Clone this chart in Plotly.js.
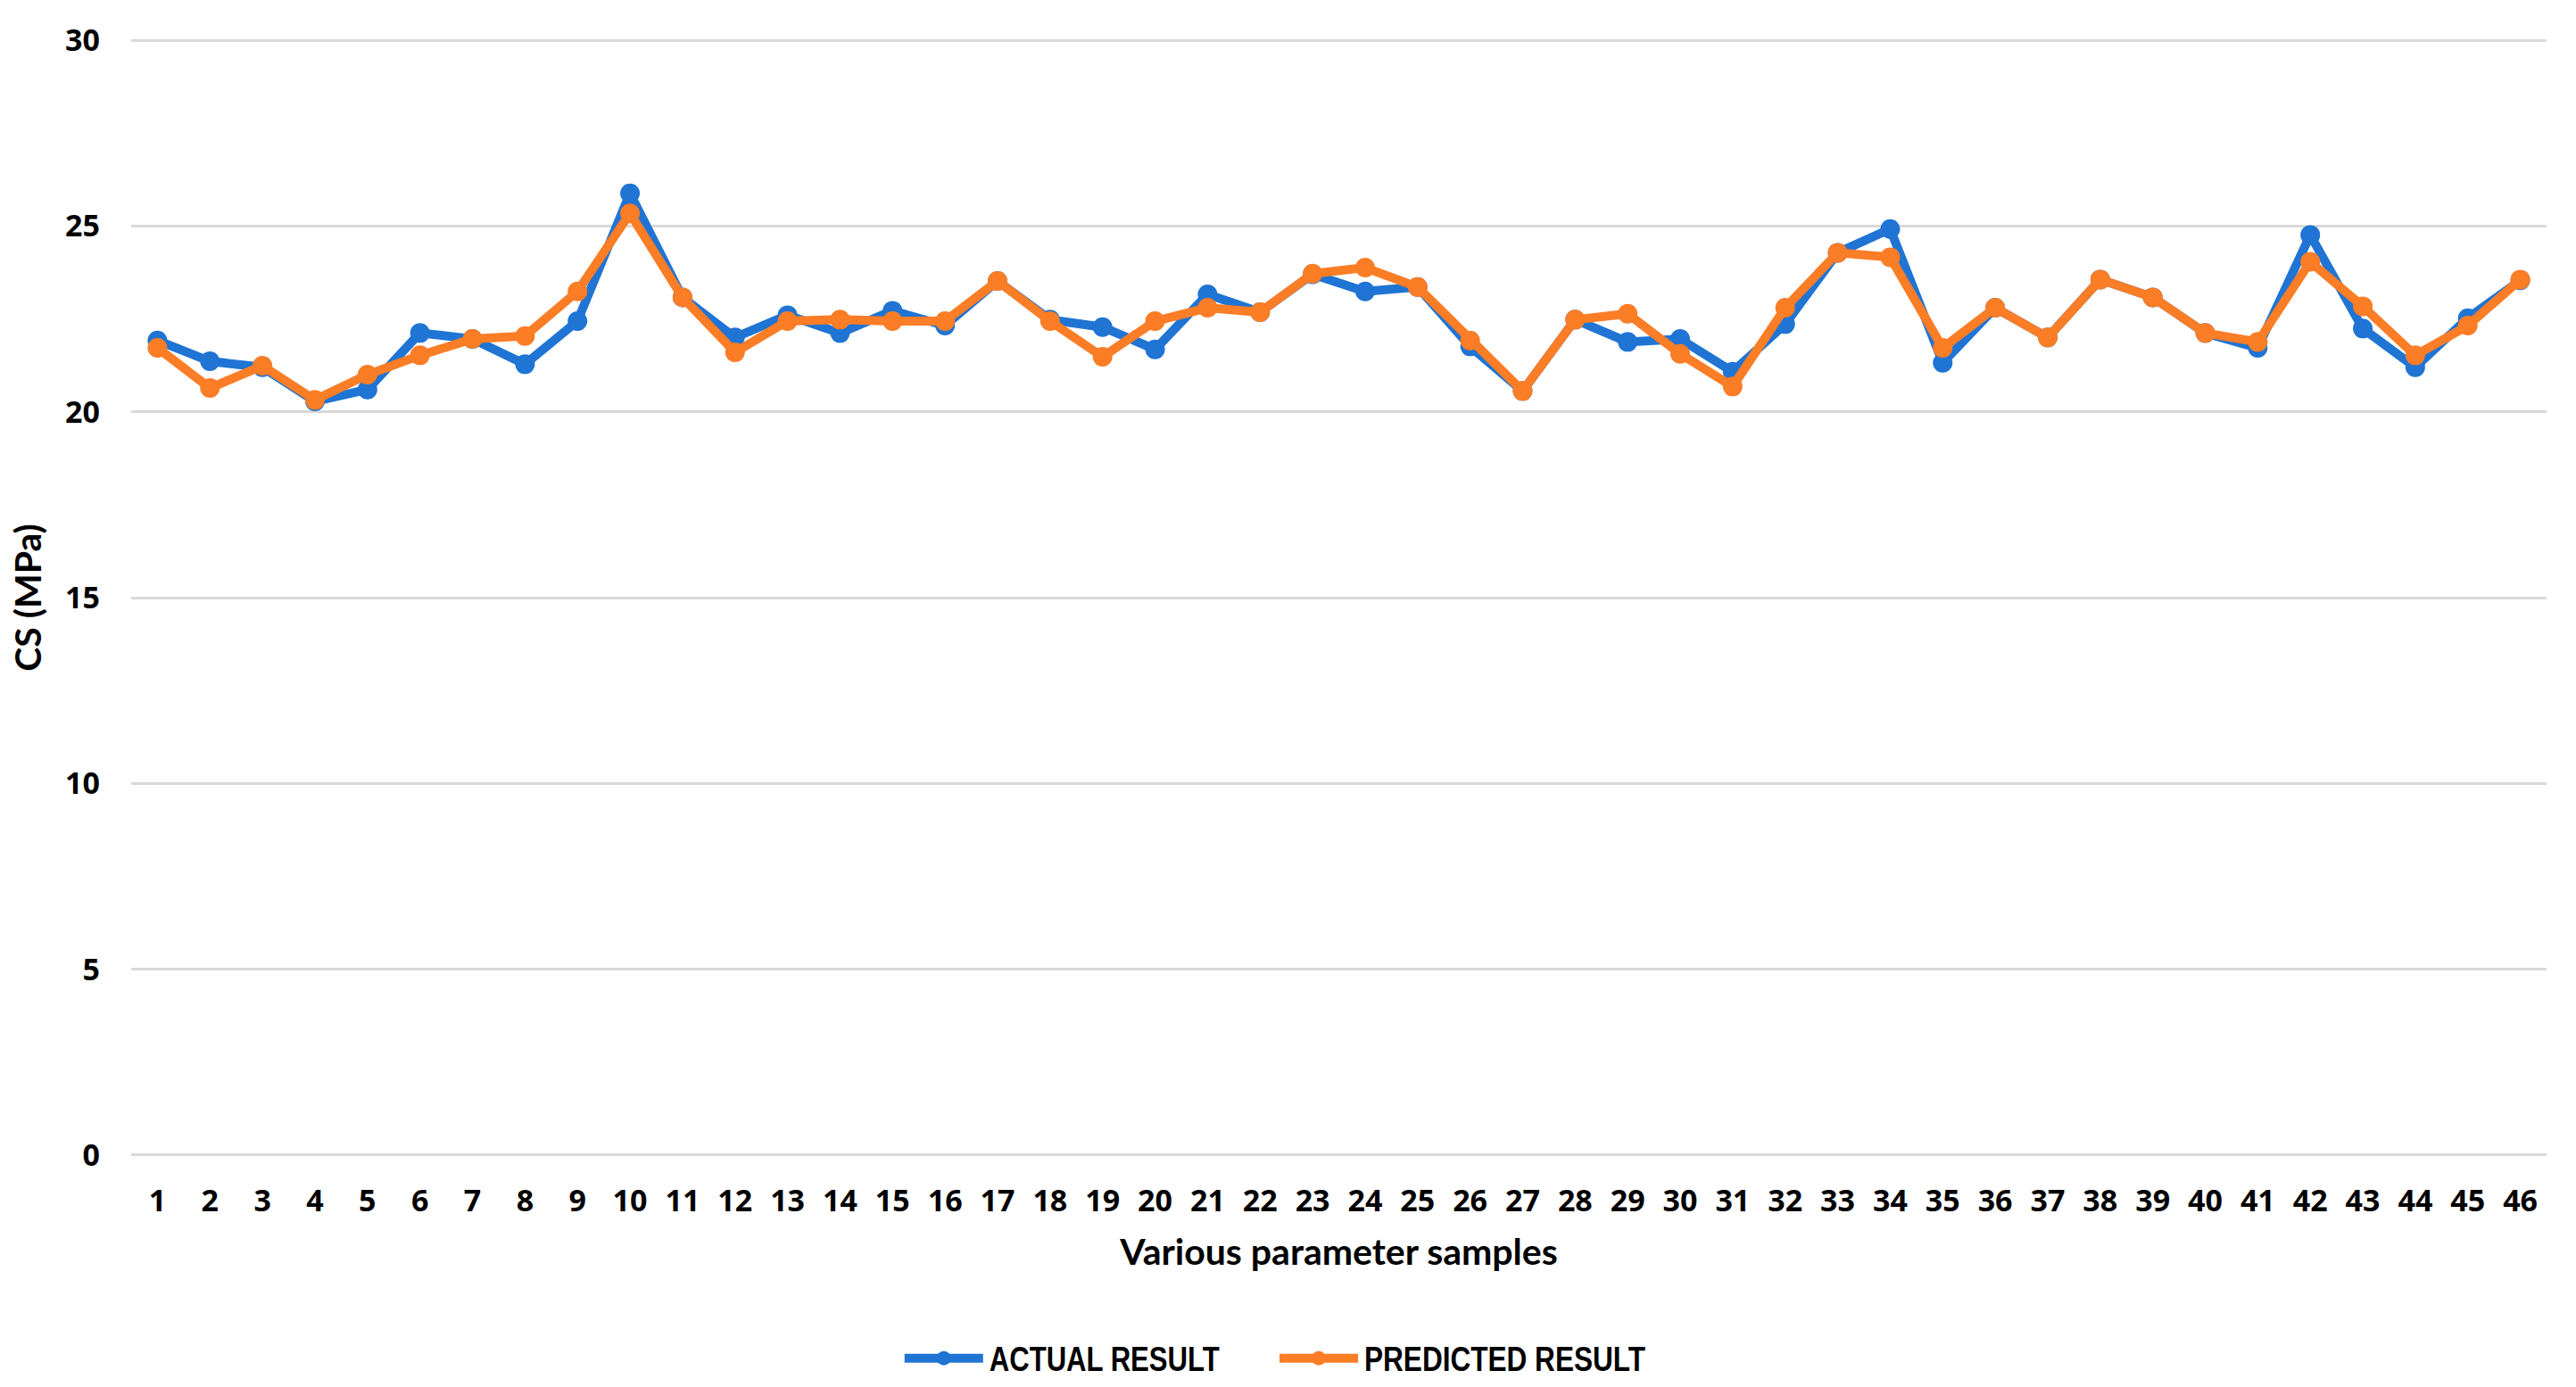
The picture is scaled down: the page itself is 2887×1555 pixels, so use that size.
<!DOCTYPE html>
<html>
<head>
<meta charset="utf-8">
<script src="https://cdn.plot.ly/plotly-3.0.1.min.js"></script>
<style>
html,body{margin:0;padding:0;background:#fff;}
#chart{width:2887px;height:1555px;}
</style>
</head>
<body>
<div id="chart"></div>
<script>
const samples = ['1','2','3','4','5','6','7','8','9','10','11','12','13','14','15','16','17','18','19','20','21','22','23','24','25','26','27','28','29','30','31','32','33','34','35','36','37','38','39','40','41','42','43','44','45','46'];
const actualResult = [21.92, 21.36, 21.20, 20.28, 20.60, 22.12, 21.96, 21.28, 22.44, 25.88, 23.08, 22.00, 22.60, 22.12, 22.72, 22.32, 23.52, 22.48, 22.28, 21.68, 23.16, 22.68, 23.70, 23.24, 23.36, 21.76, 20.56, 22.48, 21.88, 21.96, 21.08, 22.36, 24.28, 24.92, 21.32, 22.80, 22.00, 23.56, 23.08, 22.12, 21.72, 24.76, 22.24, 21.20, 22.52, 23.54];
const predictedResult = [21.72, 20.64, 21.24, 20.32, 21.00, 21.52, 21.96, 22.04, 23.24, 25.34, 23.08, 21.60, 22.44, 22.48, 22.44, 22.44, 23.52, 22.44, 21.48, 22.44, 22.80, 22.68, 23.72, 23.88, 23.36, 21.92, 20.56, 22.48, 22.64, 21.56, 20.68, 22.80, 24.28, 24.16, 21.72, 22.80, 22.00, 23.56, 23.08, 22.12, 21.88, 24.04, 22.84, 21.52, 22.32, 23.56];
const seriesNames = ['ACTUAL RESULT', 'PREDICTED RESULT'];
const yTicks = [0, 5, 10, 15, 20, 25, 30];

const blue = '#1f74d4';
const orange = '#fb7d26';

const traces = [
  {x: samples, y: actualResult, name: seriesNames[0], type: 'scatter', mode: 'lines+markers',
   line: {color: blue, width: 10}, marker: {color: blue, size: 22}},
  {x: samples, y: predictedResult, name: seriesNames[1], type: 'scatter', mode: 'lines+markers',
   line: {color: orange, width: 10}, marker: {color: orange, size: 22}}
];

const layout = {
  width: 2887, height: 1555,
  margin: {l: 147, r: 33, t: 43, b: 258},
  paper_bgcolor: '#fff', plot_bgcolor: '#fff',
  showlegend: true,
  legend: {orientation: 'h', x: 0.4855, xanchor: 'center', yref: 'container', y: 0.0206, yanchor: 'middle',
    font: {family: '"Liberation Sans", Arial, sans-serif', size: 38, color: '#000', weight: 'bold'},
    itemwidth: 90, tracegroupgap: 0},
  xaxis: {
    type: 'category', categoryorder: 'array', categoryarray: samples,
    range: [-0.5, 45.5], autorange: false,
    showgrid: false, zeroline: false, showline: false, ticks: '',
    ticklabelstandoff: 26,
    tickfont: {family: '"Open Sans", sans-serif', size: 34, color: '#000', weight: 'bold'},
    title: {text: 'Various parameter samples', standoff: 22,
      font: {family: 'Lato, sans-serif', size: 41, color: '#000', weight: 'bold'}}
  },
  yaxis: {
    range: [-0.05, 30.05], autorange: false, tickvals: yTicks, ticktext: yTicks.map(String),
    showgrid: true, gridcolor: '#d9d9d9', gridwidth: 3,
    zeroline: false, showline: false, ticks: '',
    ticklabelstandoff: 34,
    tickfont: {family: '"Open Sans", sans-serif', size: 34, color: '#000', weight: 'bold'},
    title: {text: 'CS (MPa)', standoff: 13,
      font: {family: 'Lato, sans-serif', size: 41, color: '#000', weight: 'bold'}}
  }
};

Plotly.newPlot('chart', traces, layout, {displayModeBar: false, staticPlot: true}).then(function (gd) {
  // Excel-style legend keys: long line with the marker in its centre
  gd.querySelectorAll('.legend .traces').forEach(function (tr, i) {
    tr.querySelectorAll('.legendlines path').forEach(function (p) { p.setAttribute('d', 'M5,0h88'); });
    tr.querySelectorAll('.legendpoints path').forEach(function (p) { p.setAttribute('transform', 'translate(49,0)'); });
    const t = tr.querySelector('text.legendtext');
    if (t) {
      t.setAttribute('textLength', i === 0 ? 258 : 315);
      t.setAttribute('lengthAdjust', 'spacingAndGlyphs');
    }
  });
});
</script>
</body>
</html>
